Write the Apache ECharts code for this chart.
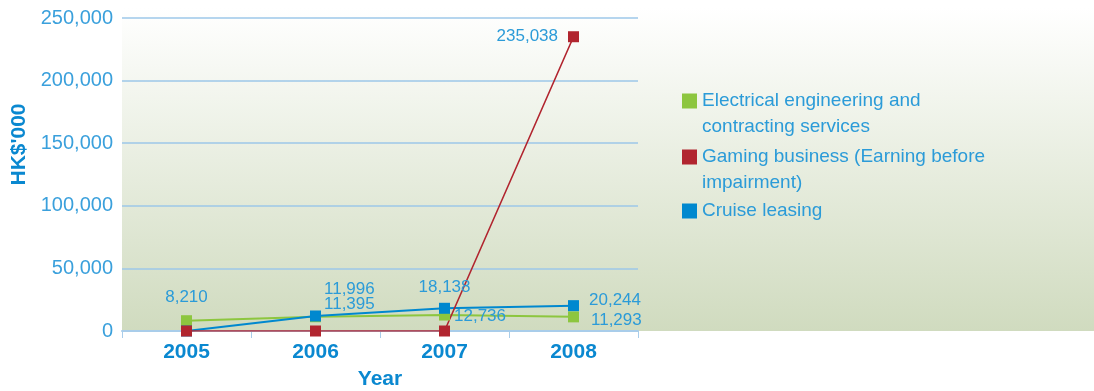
<!DOCTYPE html>
<html>
<head>
<meta charset="utf-8">
<script src="https://cdn.jsdelivr.net/npm/echarts@6/dist/echarts.min.js"></script>
<style>
html,body{margin:0;padding:0;background:#fff;overflow:hidden;}
#chart{width:1094px;height:391px;}
</style>
</head>
<body>
<div id="chart"></div>
<script>
// ---- data ----
const years = ['2005', '2006', '2007', '2008'];
const electrical = [8210, 11395, 12736, 11293];
const gaming = [0, 0, 0, 235038];
const cruise = [0, 11996, 18138, 20244];
const seriesNames = [
  'Electrical engineering and\ncontracting services',
  'Gaming business (Earning before\nimpairment)',
  'Cruise leasing'
];
const yTicks = { min: 0, max: 250000, interval: 50000 };

// ---- styles ----
const FONT = "'Helvetica Neue', 'Liberation Sans', Arial, sans-serif";
const LABEL_COLOR = '#2b9bd8';
const GREEN = '#8dc63f', RED = '#b1252f', BLUE = '#0088cf';
const fmt = v => v.toLocaleString('en-US');

// per-point label placement (null = no label)
const elecLabels = [
  { position: 'top', distance: 9 },
  { position: 'right', distance: 3, offset: [0, -12] },
  { position: 'right', distance: 4, offset: [0, 1] },
  { position: 'right', distance: 12, offset: [0, 3] }
];
const gamingLabels = [null, null, null, { position: 'left', distance: 10 }];
const cruiseLabels = [
  null,
  { position: 'right', distance: 3, offset: [0, -27] },
  { position: 'top', distance: 7 },
  { position: 'right', distance: 10, offset: [0, -5] }
];

function build(values, labels) {
  return values.map((v, i) => {
    const l = labels[i];
    return {
      value: v,
      label: l ? Object.assign({ show: true }, l) : { show: false }
    };
  });
}

const chart = echarts.init(document.getElementById('chart'), null, { width: 1094, height: 391 });

const baseSeries = (name, color, values, labels, width) => ({
  name: name,
  type: 'line',
  data: build(values, labels),
  symbol: 'rect',
  symbolSize: 11,
  showAllSymbol: true,
  itemStyle: { color: color },
  lineStyle: { color: color, width: width },
  label: {
    color: LABEL_COLOR,
    fontFamily: FONT,
    fontSize: 17,
    formatter: p => fmt(p.value)
  },
  animation: false
});

const legendCommon = {
  orient: 'vertical',
  left: 682,
  itemWidth: 15,
  itemHeight: 15,
  icon: 'rect',
  padding: 0,
  selectedMode: false,
  textStyle: { color: LABEL_COLOR, fontFamily: FONT, fontSize: 19, lineHeight: 26 }
};

chart.setOption({
  animation: false,
  graphic: [{
    type: 'rect',
    z: -10,
    silent: true,
    shape: { x: 122, y: 8, width: 972, height: 323 },
    style: {
      fill: new echarts.graphic.LinearGradient(0, 0, 0, 1, [
        { offset: 0, color: '#ffffff' },
        { offset: 1, color: '#d0dbbf' }
      ])
    }
  }],
  grid: { left: 122, right: 456, top: 18, bottom: 60, containLabel: false, outerBoundsMode: 'none' },
  legend: [
    Object.assign({}, legendCommon, {
      top: 62,
      formatter: n => '\n' + n,
      data: [seriesNames[0]]
    }),
    Object.assign({}, legendCommon, {
      top: 118,
      formatter: n => '\n' + n,
      data: [seriesNames[1]]
    }),
    Object.assign({}, legendCommon, {
      top: 198,
      data: [seriesNames[2]]
    })
  ],
  xAxis: {
    type: 'category',
    data: years,
    boundaryGap: true,
    name: 'Year',
    nameLocation: 'middle',
    nameGap: 38,
    nameTextStyle: { color: '#0a88d0', fontFamily: FONT, fontSize: 21, fontWeight: 'bold' },
    axisLine: { show: true, lineStyle: { color: '#a9cdea', width: 2 } },
    axisTick: { show: true, length: 7, lineStyle: { color: '#a9cdea', width: 1 } },
    axisLabel: { color: '#0a88d0', fontFamily: FONT, fontSize: 21, fontWeight: 'bold', margin: 11 }
  },
  yAxis: {
    type: 'value',
    min: yTicks.min,
    max: yTicks.max,
    interval: yTicks.interval,
    name: "HK$'000",
    nameLocation: 'middle',
    nameGap: 92,
    nameTextStyle: { color: '#0a88d0', fontFamily: FONT, fontSize: 21, fontWeight: 'bold', padding: [0, 0, 0, 60] },
    axisLine: { show: false },
    axisTick: { show: false },
    axisLabel: { color: '#3aa0dc', fontFamily: FONT, fontSize: 20, margin: 9, formatter: v => fmt(v) },
    splitLine: { show: true, lineStyle: { color: '#9cc7e8', width: 1.5 } }
  },
  series: [
    baseSeries(seriesNames[0], GREEN, electrical, elecLabels, 2),
    baseSeries(seriesNames[2], BLUE, cruise, cruiseLabels, 2),
    baseSeries(seriesNames[1], RED, gaming, gamingLabels, 1.6)
  ]
});
</script>
</body>
</html>
